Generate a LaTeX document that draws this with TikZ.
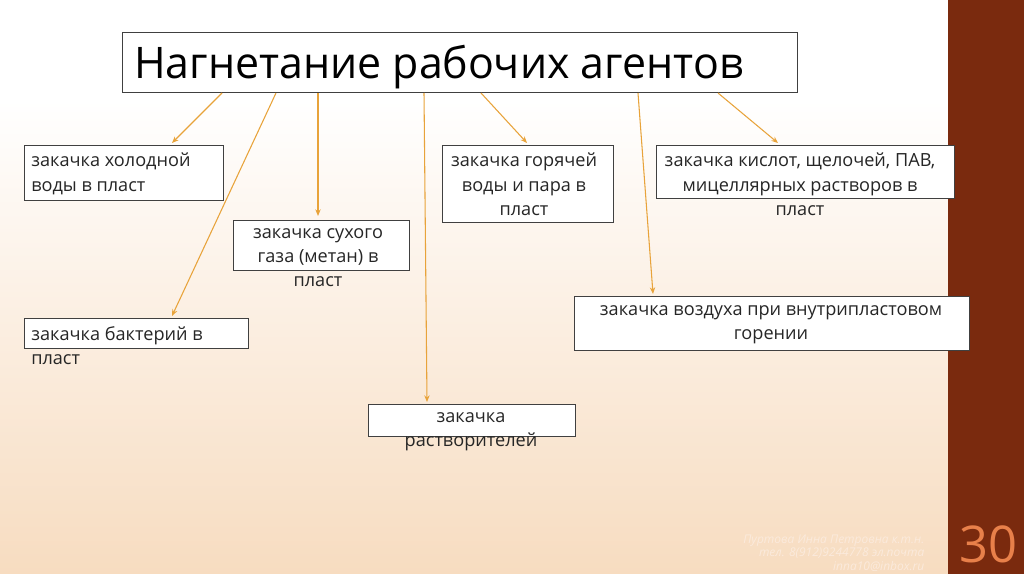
\documentclass[tikz,border=0pt]{standalone}
\usepackage{fontspec}
\setmainfont{Open Sans}
\usetikzlibrary{arrows.meta}
\definecolor{band}{HTML}{7A2A0E}
\definecolor{num}{HTML}{E8804A}
\definecolor{arr}{HTML}{E8A33A}
\definecolor{peach}{HTML}{F7DCC0}
\definecolor{foot}{HTML}{FBEADC}
\begin{document}
\begin{tikzpicture}[x=0.75pt,y=-0.75pt,
  box/.style={draw=black!75,line width=0.6pt,fill=white},
  txt/.style={font=\fontsize{13.6}{18.2}\selectfont,text=black!85,inner sep=0pt},
  link/.style={arr,line width=0.8pt,-{Stealth[length=5pt,width=4pt]}}]
\useasboundingbox (0,0) rectangle (1024,574);
\fill[white] (0,0) rectangle (948,120);
\shade[top color=white,bottom color=peach] (0,100) rectangle (948,574);
\fill[band] (948,0) rectangle (1024,574);
\node[text=num,font=\fontsize{38}{38}\selectfont] (pg) at (988,544) {30};
\node[text=foot,font=\fontsize{9}{10}\selectfont\itshape,align=right,anchor=east] (ft) at (929,553)
 {Пуртова Инна Петровна к.т.н.\\тел. 8(912)9244778 эл.почта\\inna10@inbox.ru};
% title
\draw[box] (122,32) rectangle (797,92);
\node[anchor=base west,inner sep=0pt] (title) at (134,79) {\resizebox{457pt}{25pt}{\fontsize{30}{30}\selectfont Нагнетание рабочих агентов}};
% boxes
\draw[box] (24,145) rectangle (223,200);
\node[txt,anchor=north west,align=left] (b1) at (31,153) {закачка холодной\\воды в пласт};
\draw[box] (233,220) rectangle (409,270);
\node[txt,anchor=north,align=center] (b2) at (318,228) {закачка сухого\\газа (метан) в\\пласт};
\draw[box] (442,145) rectangle (613,222);
\node[txt,anchor=north,align=center] (b3) at (524,153) {закачка горячей\\воды и пара в\\пласт};
\draw[box] (656,145) rectangle (954,198);
\node[txt,anchor=north,align=center] (b4) at (800,153) {закачка кислот, щелочей, ПАВ,\\мицеллярных растворов в\\пласт};
\draw[box] (574,296) rectangle (969,350);
\node[txt,anchor=north,align=center] (b5) at (771,305) {закачка воздуха при внутрипластовом\\горении};
\draw[box] (24,318) rectangle (248,348);
\node[txt,anchor=north west,align=left] (b6) at (31,326) {закачка бактерий в\\пласт};
\draw[box] (368,404) rectangle (575,436);
\node[txt,anchor=north,align=center] (b7) at (471,412) {закачка\\растворителей};
% arrows
\coordinate (e1) at (172,143); \coordinate (e2) at (172,316); \coordinate (e3) at (318,216);
\coordinate (e4) at (427,402); \coordinate (e5) at (527,143); \coordinate (e6) at (653,294);
\coordinate (e7) at (778,143);
\draw[link] (222,93) -- (e1);
\draw[link] (276,93) -- (e2);
\draw[link] (318,93) -- (e3);
\draw[link] (424,93) -- (e4);
\draw[link] (481,93) -- (e5);
\draw[link] (638,93) -- (e6);
\draw[link] (718,93) -- (e7);
\end{tikzpicture}
\end{document}
